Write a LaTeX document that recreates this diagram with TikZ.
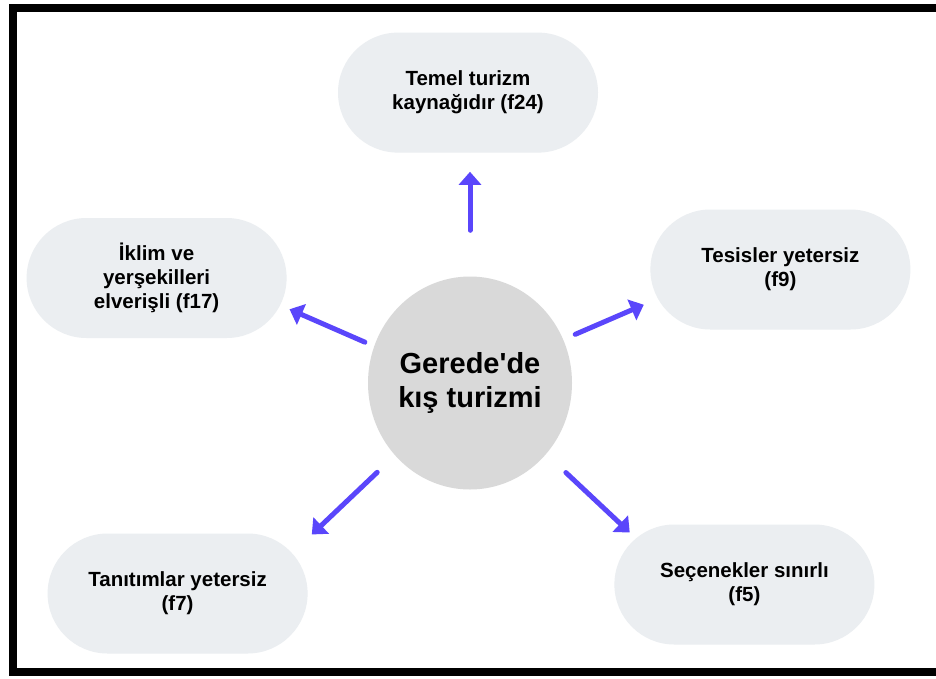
\documentclass[tikz,border=0pt]{standalone}
\usepackage{fontspec}
\setmainfont{Liberation Sans}
\usepackage{xcolor}
\usetikzlibrary{positioning,arrows.meta,shapes.geometric}
\definecolor{pillgray}{HTML}{EBEEF1}
\definecolor{hubgray}{HTML}{D9D9D9}
\definecolor{arrowblue}{HTML}{5A46FB}

\begin{document}
\begin{tikzpicture}[
  x=1pt, y=-1pt,
  >={Triangle[length=13pt,width=22pt]},
  pill/.style={rounded corners=60pt, minimum width=260pt, minimum height=120pt, inner sep=0pt, fill=pillgray, align=center, font=\fontsize{20.5}{24}\selectfont\bfseries},
  hub/.style={ellipse, minimum width=204pt, minimum height=213pt, inner sep=0pt, fill=hubgray, align=center, font=\fontsize{29}{34}\selectfont\bfseries},
  link/.style={->, line width=5pt, line cap=round, draw=arrowblue},
]
\fill[white] (0,0) rectangle (936,678);
\useasboundingbox (0,0) rectangle (936,678);
\draw[line width=8pt] (13,8) rectangle (939.5,672);

\node[hub] (hub) at (470,383) {Gerede\textquotesingle de\\kış turizmi};
\node[pill, above=123.5pt of hub, xshift=-2pt] (tm) {Temel turizm\\kaynağıdır (f24)};
\node[pill, left=81pt of hub, yshift=105pt] (ik) {İklim ve\\yerşekilleri\\elverişli (f17)};
\node[pill, right=78pt of hub, yshift=113.5pt] (ts) {Tesisler yetersiz\\(f9)};
\node[pill, left=60pt of hub, yshift=-210.5pt] (tn) {Tanıtımlar yetersiz\\(f7)};
\node[pill, right=42pt of hub, yshift=-201.5pt] (sc) {Seçenekler sınırlı\\(f5)};

\draw[link, shorten <=46pt, shorten >=19pt] (hub.north) -- (hub.north |- tm.south);
\draw[link, shorten <=10pt, shorten >=3pt] (hub.159) -- (ik.-13);
\draw[link, shorten <=13pt, shorten >=7pt] (hub.25) -- (ts.194.5);
\draw[link, shorten <=24.5pt, shorten >=5.5pt] (hub.224.4) -- (tn.23);
\draw[link, shorten <=27pt, shorten >=-12pt] (hub.-43.4) -- (sc.154.3);
\end{tikzpicture}
\end{document}
